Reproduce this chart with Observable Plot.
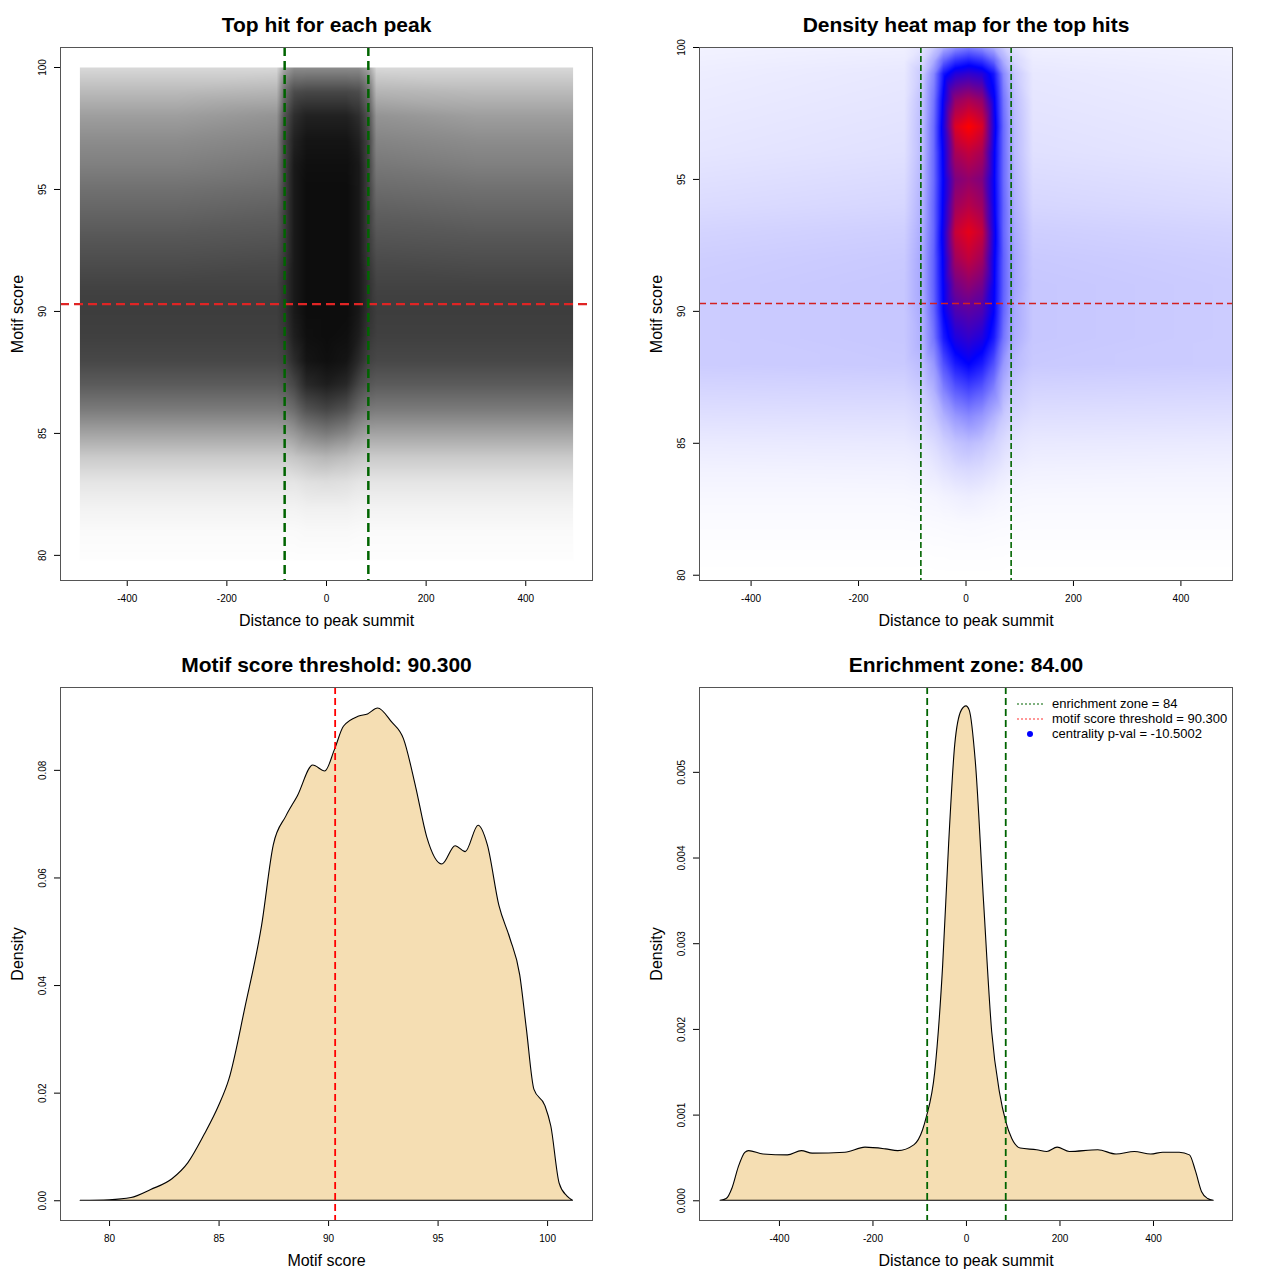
<!DOCTYPE html>
<html><head><meta charset="utf-8">
<script src="https://cdn.jsdelivr.net/npm/d3@7"></script>
<script src="https://cdn.jsdelivr.net/npm/@observablehq/plot@0.6"></script>
<style>
body{margin:0;background:#fff;font-family:"Liberation Sans",Arial,sans-serif;}
#grid{display:grid;grid-template-columns:640px 640px;width:1280px;}
.cell{position:relative;width:640px;height:640px;overflow:hidden}
.cell svg{display:block}
.legend{position:absolute;left:377px;top:56px;font-size:13px;color:#000;}
.legend .row{display:flex;align-items:center;height:15px;}
.legend svg{margin-right:9px}
</style></head><body>
<div id="grid">
<div class="cell" id="p1"></div>
<div class="cell" id="p2"></div>
<div class="cell" id="p3"></div>
<div class="cell" id="p4"></div>
</div>
<script>
// ---------- data ----------
const enrichmentZone = 84;
const scoreThreshold = 90.3;
const distTicks = [-400, -200, 0, 200, 400];
const scoreTicks = [80, 85, 90, 95, 100];
const densScoreTicks = [0, 0.02, 0.04, 0.06, 0.08];
const densDistTicks = [0, 0.001, 0.002, 0.003, 0.004, 0.005];

// Top-left: ink coverage of the scatter (rows = scores, cols = distances)
const scatterX = [-495, -300, -100, -85, -65, -40, 0, 40, 65, 85, 100, 300, 495];
const scatterScores = [79.8, 81, 82, 83, 84, 85, 86, 87, 88, 89, 90, 91, 92, 93, 94, 95, 96, 97, 98, 99, 100];
const scatterInk = [
  [.005,.005,.005,.005,.005,.005,.005,.005,.005,.005,.005,.005,.005],
  [.02,.02,.02,.02,.02,.025,.025,.025,.02,.02,.02,.02,.02],
  [.05,.05,.05,.05,.05,.06,.06,.06,.05,.05,.05,.05,.05],
  [.1,.1,.1,.1,.1,.12,.13,.12,.1,.1,.1,.1,.1],
  [.2,.2,.2,.2,.22,.25,.28,.25,.22,.2,.2,.2,.2],
  [.36,.36,.36,.36,.4,.47,.52,.47,.4,.36,.36,.36,.36],
  [.52,.52,.52,.53,.58,.68,.73,.68,.58,.53,.52,.52,.52],
  [.64,.64,.64,.66,.72,.84,.88,.84,.72,.66,.64,.64,.64],
  [.72,.72,.72,.74,.83,.92,.94,.92,.83,.74,.72,.72,.72],
  [.75,.75,.75,.78,.88,.94,.95,.94,.88,.78,.75,.75,.75],
  [.76,.76,.76,.8,.9,.95,.95,.95,.9,.8,.76,.76,.76],
  [.74,.74,.74,.8,.9,.95,.95,.95,.9,.8,.74,.74,.74],
  [.7,.7,.71,.78,.9,.95,.95,.95,.9,.78,.71,.7,.7],
  [.66,.66,.67,.76,.9,.95,.95,.95,.9,.76,.67,.66,.66],
  [.61,.61,.63,.75,.9,.95,.95,.95,.9,.75,.63,.61,.61],
  [.56,.56,.58,.74,.9,.95,.95,.95,.9,.74,.58,.56,.56],
  [.5,.5,.53,.73,.9,.94,.94,.94,.9,.73,.53,.5,.5],
  [.45,.45,.48,.72,.87,.92,.92,.92,.87,.72,.48,.45,.45],
  [.38,.38,.42,.67,.82,.87,.87,.87,.82,.67,.42,.38,.38],
  [.27,.27,.29,.56,.7,.72,.72,.72,.7,.56,.29,.27,.27],
  [.15,.15,.15,.35,.45,.45,.45,.45,.45,.35,.15,.15,.15]
];

// Top-right: heat-map density (0 = white, 0.5 = blue, 1 = red)
const heatX = [-495, -115, -80, -60, -42, -20, 5, 30, 52, 70, 90, 125, 495];
const heatScores = [80, 81, 82, 83, 84, 85, 86, 87, 88, 89, 90, 91, 92, 93, 94, 95, 96, 97, 98, 99, 99.5, 100];
const heatValues = [
  [0,0,0,0,0,0,0,0,0,0,0,0,0],
  [.003,.003,.003,.004,.004,.005,.005,.005,.004,.004,.003,.003,.003],
  [.008,.008,.009,.01,.011,.012,.013,.012,.011,.01,.009,.008,.008],
  [.015,.015,.017,.02,.025,.03,.035,.03,.025,.02,.017,.015,.015],
  [.025,.027,.032,.042,.055,.068,.075,.068,.055,.042,.032,.027,.025],
  [.04,.042,.052,.068,.09,.115,.13,.115,.09,.068,.052,.042,.04],
  [.06,.062,.078,.105,.15,.2,.23,.2,.15,.105,.078,.062,.06],
  [.08,.083,.105,.15,.24,.32,.36,.32,.24,.15,.105,.083,.08],
  [.1,.105,.135,.2,.34,.45,.5,.45,.34,.2,.135,.105,.1],
  [.1,.11,.16,.27,.45,.56,.6,.56,.45,.27,.16,.11,.1],
  [.1,.11,.17,.3,.5,.65,.68,.65,.5,.3,.17,.11,.1],
  [.1,.11,.18,.31,.51,.73,.78,.73,.51,.31,.18,.11,.1],
  [.095,.105,.18,.31,.52,.82,.88,.82,.52,.31,.18,.105,.095],
  [.085,.095,.17,.3,.54,.89,.95,.89,.54,.3,.17,.095,.085],
  [.07,.08,.16,.3,.52,.81,.86,.81,.52,.3,.16,.08,.07],
  [.06,.07,.15,.29,.51,.75,.79,.75,.51,.29,.15,.07,.06],
  [.05,.06,.14,.29,.52,.83,.88,.83,.52,.29,.14,.06,.05],
  [.045,.055,.14,.29,.55,.93,1.0,.93,.55,.29,.14,.055,.045],
  [.04,.05,.13,.27,.52,.79,.84,.79,.52,.27,.13,.05,.04],
  [.035,.045,.11,.23,.46,.57,.6,.57,.46,.23,.11,.045,.035],
  [.03,.038,.08,.16,.3,.4,.44,.4,.3,.16,.08,.038,.03],
  [.025,.03,.055,.1,.16,.22,.26,.22,.16,.1,.055,.03,.025]
];

// Bottom-left: density of motif scores
const scoreX = [78.68, 80, 81, 81.9, 82.87, 83.6, 84.35, 85, 85.47, 86.2, 86.96, 87.5, 88.07, 88.6, 89.3, 89.85, 90.3, 90.7, 91.4, 91.8, 92.26, 92.9, 93.44, 94.0, 94.5, 95.2, 95.8, 96.26, 96.85, 97.27, 97.8, 98.3, 98.75, 99.05, 99.4, 99.9, 100.17, 100.55, 100.9, 101.16];
const scoreDensity = [0, 0.0001, 0.0005, 0.002, 0.004, 0.007, 0.0123, 0.0176, 0.0225, 0.0358, 0.051, 0.0661, 0.0714, 0.0752, 0.0809, 0.0798, 0.0839, 0.0881, 0.0900, 0.0904, 0.0915, 0.0889, 0.0858, 0.0768, 0.0676, 0.0625, 0.0659, 0.0648, 0.0697, 0.0661, 0.0548, 0.0487, 0.0419, 0.032, 0.0206, 0.0176, 0.0138, 0.0032, 0.0008, 0];

// Bottom-right: density of distances to peak summit
const distX = [-526, -513, -500, -487, -473, -465, -434, -382, -352, -329, -259, -216, -172, -146, -111, -93, -85, -67, -50, -37, -24, -10, 0, 7, 20, 38, 55, 72, 85, 98, 116, 151, 173, 195, 221, 282, 321, 360, 395, 421, 456, 478, 491, 504, 517, 529];
const distDensity = [0, 0.00002, 0.00015, 0.00039, 0.00056, 0.00058, 0.00054, 0.00053, 0.00058, 0.00055, 0.00056, 0.00062, 0.0006, 0.00058, 0.00065, 0.00082, 0.00097, 0.00149, 0.00273, 0.00417, 0.00532, 0.00572, 0.00577, 0.00572, 0.00512, 0.00345, 0.00197, 0.00125, 0.00092, 0.00072, 0.00061, 0.00059, 0.00057, 0.00062, 0.00057, 0.00059, 0.00054, 0.00057, 0.00054, 0.00056, 0.00056, 0.00053, 0.00034, 0.0001, 0.00002, 0];

// ---------- helpers ----------
const FONT = "Liberation Sans, Arial, Helvetica, sans-serif";
function grid(xs, ys, vals) {
  return ys.flatMap((y, i) => xs.map((x, j) => ({x, y, v: vals[i][j]})));
}
function decor({title, xlabel, ylabel, xticks, yticks, yfmt}) {
  return [
    Plot.axisX(xticks, {tickSize: 6, tickPadding: 8, fontSize: 10, label: null, tickFormat: d => String(d)}),
    Plot.axisY(yticks, {tickSize: 6, tickFormat: () => "", label: null}),
    Plot.text(yticks, {y: d => d, text: yfmt, frameAnchor: "left", dx: -18, rotate: -90, fontSize: 10,
      textAnchor: "middle", lineAnchor: "middle"}),
    Plot.frame({stroke: "#555"}),
    Plot.text([title], {text: d => d, frameAnchor: "top", dy: -22, fontSize: 21, fontWeight: "bold", lineAnchor: "middle"}),
    Plot.text([xlabel], {text: d => d, frameAnchor: "bottom", dy: 40, fontSize: 16, lineAnchor: "middle"}),
    Plot.text([ylabel], {text: d => d, frameAnchor: "left", dx: -43, rotate: -90, fontSize: 16,
      textAnchor: "middle", lineAnchor: "middle"})
  ];
}
const base = {width: 640, height: 640, marginTop: 47, marginBottom: 60, marginLeft: 60, marginRight: 48,
  style: {fontFamily: FONT, background: "white", color: "black", overflow: "visible"}};

// ---------- panel 1: scatter ----------
const p1 = Plot.plot({...base,
  x: {domain: [-534, 534]},
  y: {domain: [78.97, 100.82]},
  color: {type: "linear", domain: [0, 1], range: ["white", "black"]},
  marks: [
    Plot.raster(grid(scatterX, scatterScores, scatterInk), {x: "x", y: "y", fill: "v", interpolate: "barycentric",
      x1: scatterX[0], x2: scatterX[scatterX.length - 1], y1: scatterScores[0], y2: scatterScores[scatterScores.length - 1]}),
    Plot.ruleY([scoreThreshold], {stroke: "#e02424", strokeWidth: 2.2, strokeDasharray: "9,5"}),
    Plot.ruleX([-enrichmentZone, enrichmentZone], {stroke: "#006400", strokeWidth: 2.5, strokeDasharray: "9,5"}),
    ...decor({title: "Top hit for each peak", xlabel: "Distance to peak summit", ylabel: "Motif score",
      xticks: distTicks, yticks: scoreTicks, yfmt: d => String(d)})
  ]
});
document.getElementById("p1").append(p1);

// ---------- panel 2: heat map ----------
const p2 = Plot.plot({...base, marginLeft: 59,
  x: {domain: [-496, 496]},
  y: {domain: [79.8, 100]},
  color: {type: "linear", domain: [0, 0.5, 1], range: ["white", "blue", "red"], interpolate: "rgb", clamp: true},
  marks: [
    Plot.raster(grid(heatX, heatScores, heatValues), {x: "x", y: "y", fill: "v", interpolate: "barycentric",
      x1: heatX[0], x2: heatX[heatX.length - 1], y1: heatScores[0], y2: heatScores[heatScores.length - 1]}),
    Plot.ruleY([scoreThreshold], {stroke: "#d42020", strokeWidth: 1.4, strokeDasharray: "7,4"}),
    Plot.ruleX([-enrichmentZone, enrichmentZone], {stroke: "#006400", strokeWidth: 1.6, strokeDasharray: "6,3"}),
    ...decor({title: "Density heat map for the top hits", xlabel: "Distance to peak summit", ylabel: "Motif score",
      xticks: distTicks, yticks: scoreTicks, yfmt: d => String(d)})
  ]
});
document.getElementById("p2").append(p2);

// ---------- panel 3: score density ----------
const scoreRows = scoreX.map((x, i) => ({x, y: scoreDensity[i]}));
const p3 = Plot.plot({...base,
  x: {domain: [77.76, 102.05]},
  y: {domain: [-0.00367, 0.0954]},
  marks: [
    Plot.areaY(scoreRows, {x: "x", y: "y", fill: "wheat", stroke: "black", strokeWidth: 1.1, curve: "monotone-x"}),
    Plot.ruleX([scoreThreshold], {stroke: "red", strokeWidth: 1.8, strokeDasharray: "7,4"}),
    ...decor({title: "Motif score threshold: 90.300", xlabel: "Motif score", ylabel: "Density",
      xticks: scoreTicks, yticks: densScoreTicks, yfmt: d3.format(".2f")})
  ]
});
document.getElementById("p3").append(p3);

// ---------- panel 4: distance density ----------
const distRows = distX.map((x, i) => ({x, y: distDensity[i]}));
const p4 = Plot.plot({...base, marginLeft: 59,
  x: {domain: [-571, 569]},
  y: {domain: [-0.00023, 0.00599]},
  marks: [
    Plot.areaY(distRows, {x: "x", y: "y", fill: "wheat", stroke: "black", strokeWidth: 1.1, curve: "monotone-x"}),
    Plot.ruleX([-enrichmentZone, enrichmentZone], {stroke: "#006400", strokeWidth: 1.8, strokeDasharray: "7,4"}),
    ...decor({title: "Enrichment zone: 84.00", xlabel: "Distance to peak summit", ylabel: "Density",
      xticks: distTicks, yticks: densDistTicks, yfmt: d3.format(".3f")})
  ]
});
const c4 = document.getElementById("p4");
c4.append(p4);

// legend
const legendItems = [
  {label: "enrichment zone = " + enrichmentZone, type: "line", color: "#006400"},
  {label: "motif score threshold = " + scoreThreshold.toFixed(3), type: "line", color: "#ff3030"},
  {label: "centrality p-val = -10.5002", type: "dot", color: "blue"}
];
const lg = document.createElement("div");
lg.className = "legend";
for (const it of legendItems) {
  const row = document.createElement("div");
  row.className = "row";
  const sample = it.type === "line"
    ? `<svg width="26" height="10"><line x1="0" x2="26" y1="5" y2="5" stroke="${it.color}" stroke-width="1.2" stroke-dasharray="2,2"/></svg>`
    : `<svg width="26" height="10"><circle cx="13" cy="5" r="3" fill="${it.color}"/></svg>`;
  row.innerHTML = sample + `<span>${it.label}</span>`;
  lg.append(row);
}
c4.append(lg);
</script>
</body></html>
